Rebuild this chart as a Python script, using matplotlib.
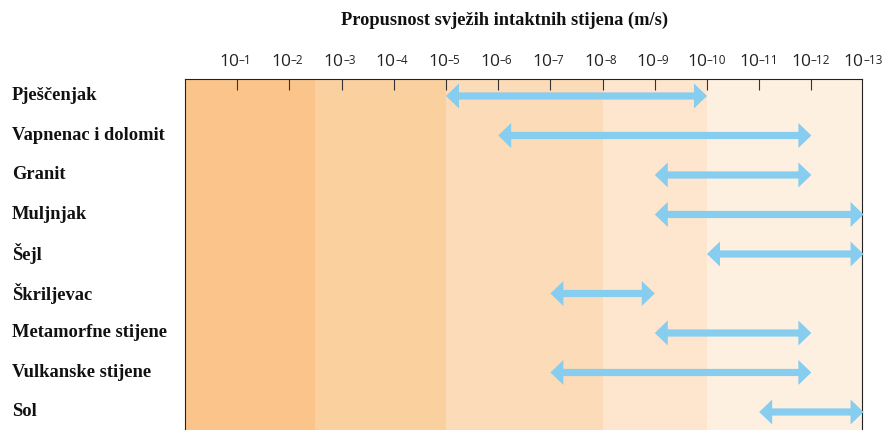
import matplotlib
matplotlib.use("Agg")
import matplotlib.pyplot as plt
from matplotlib.patches import Polygon

# ---- data ----
title = "Propusnost svježih intaktnih stijena (m/s)"
rocks = ["Pješčenjak", "Vapnenac i dolomit", "Granit", "Muljnjak", "Šejl",
         "Škriljevac", "Metamorfne stijene", "Vulkanske stijene", "Sol"]
# permeability ranges as negative exponents of 10 (m/s)
range_from = [5, 6, 9, 9, 10, 7, 9, 7, 11]
range_to = [10, 12, 12, 13, 13, 9, 12, 12, 13]
tick_exps = list(range(1, 14))
band_edges = [0, 2.5, 5, 8, 10, 13]
band_colors = ["#FAC48B", "#FBD09F", "#FCDCB8", "#FDE6CD", "#FDF0E1"]
arrow_color = "#86CDEF"

# ---- figure ----
W, H = 887, 430
fig = plt.figure(figsize=(W / 100, H / 100), dpi=100)
ax_left, ax_right, ax_top = 185, 862, 79
ax = fig.add_axes([ax_left / W, 0, (ax_right - ax_left) / W, (H - ax_top) / H])

xmax = 12.97
ax.set_xlim(0, xmax)
ax.set_ylim(len(rocks) - 1 + 0.456, -0.43)

for i in range(len(band_colors)):
    ax.axvspan(band_edges[i], band_edges[i + 1], color=band_colors[i], lw=0, zorder=0)

# arrow geometry (data units derived from pixel sizes)
px_x = (ax_right - ax_left) / xmax
px_y = (H - ax_top) / (len(rocks) - 1 + 0.456 + 0.43)
hl = 13 / px_x
hw = 12.5 / px_y
sw = 3.6 / px_y
for i, (a, b) in enumerate(zip(range_from, range_to)):
    y = i
    pts = [(a, y), (a + hl, y - hw), (a + hl, y - sw), (b - hl, y - sw),
           (b - hl, y - hw), (b, y), (b - hl, y + hw), (b - hl, y + sw),
           (a + hl, y + sw), (a + hl, y + hw)]
    ax.add_patch(Polygon(pts, closed=True, facecolor=arrow_color,
                         edgecolor="none", zorder=3, clip_on=False))

# ticks
ax.set_xticks(tick_exps[:-1])
ax.set_yticks([])
ax.tick_params(axis="x", direction="in", length=8, width=0.8, color="#333333",
               top=True, bottom=False, labeltop=False, labelbottom=False)
for s in ["left", "right", "top"]:
    ax.spines[s].set_color("#222222")
    ax.spines[s].set_linewidth(0.8)
ax.spines["bottom"].set_visible(False)

# tick labels "10" + smaller exponent
for e in tick_exps:
    dx = 2 if e < 10 else 0
    ax.annotate("10", xy=(e, 1), xycoords=("data", "axes fraction"),
                xytext=(dx, 12.5), textcoords="offset pixels",
                ha="right", va="baseline", fontsize=12.5,
                family="Open Sans", color="#222222", annotation_clip=False)
    ax.annotate("\u2013" + str(e), xy=(e, 1), xycoords=("data", "axes fraction"),
                xytext=(dx - 0.5, 15.5), textcoords="offset pixels",
                ha="left", va="baseline", fontsize=8.5,
                family="Open Sans", color="#222222", annotation_clip=False)

# row labels
for i, name in enumerate(rocks):
    ax.annotate(name, xy=(0, i), xycoords=("figure fraction", "data"),
                xytext=(12, 0), textcoords="offset pixels",
                ha="left", va="center", fontsize=13.3, fontweight="bold",
                family="Liberation Serif", color="#111111", annotation_clip=False)

fig.text(505 / W, 1 - 20 / H, title, ha="center", va="center", fontsize=13.2,
         fontweight="bold", family="Liberation Serif", color="#111111")

fig.savefig("out.png", dpi=100)
